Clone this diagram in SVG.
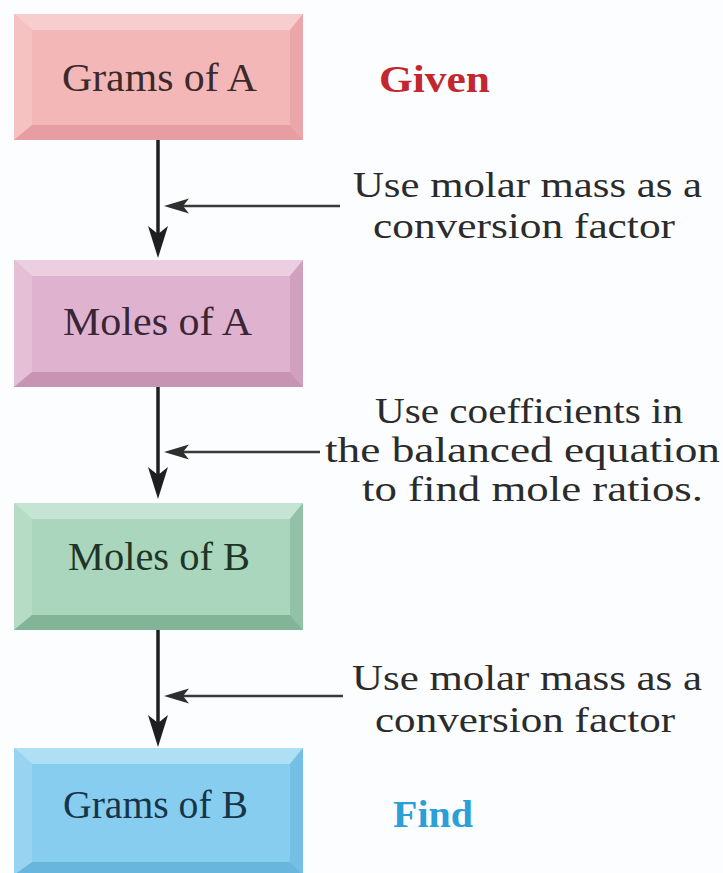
<svg xmlns="http://www.w3.org/2000/svg" width="723" height="873" viewBox="0 0 723 873">
<defs>
<style>
.lbl{font-family:"Liberation Serif",Tinos,"Times New Roman",serif;font-size:39px}
.note{font-family:"Liberation Serif",Tinos,"Times New Roman",serif;font-size:35px;fill:#2b2b2b}
.tag{font-family:"Liberation Serif",Tinos,"Times New Roman",serif;font-size:37px;font-weight:bold}
.vline{stroke:#1f1f1f;stroke-width:3.5;fill:none}
.hline{stroke:#3a3a3a;stroke-width:2.5;fill:none}
.vhead{fill:#1f1f1f}
.hhead{fill:#2e2e2e}
</style>
</defs>
<rect width="723" height="873" fill="#fcfdfe"/>

<g id="grams-a">
<rect x="14" y="14" width="289" height="126" fill="#f4b7b7"/>
<polygon points="14,14 303,14 290,30 32,30" fill="#f8cdcd"/>
<polygon points="14,14 32,30 32,125 14,140" fill="#f6c1c1"/>
<polygon points="303,14 303,140 290,125 290,30" fill="#eba6a9"/>
<polygon points="14,140 303,140 290,125 32,125" fill="#e79ea2"/>
<text class="lbl" x="62" y="91" textLength="195" lengthAdjust="spacingAndGlyphs" fill="#3b2a2c">Grams of A</text>
</g>

<g id="moles-a">
<rect x="14" y="260" width="289" height="127" fill="#dfb3cf"/>
<polygon points="14,260 303,260 290,276 32,276" fill="#ebcee0"/>
<polygon points="14,260 32,276 32,372 14,387" fill="#e4bfd6"/>
<polygon points="303,260 303,387 290,372 290,276" fill="#d0a0bf"/>
<polygon points="14,387 303,387 290,372 32,372" fill="#c794b4"/>
<text class="lbl" x="63" y="335" textLength="189" lengthAdjust="spacingAndGlyphs" fill="#3a2535">Moles of A</text>
</g>

<g id="moles-b">
<rect x="14" y="503" width="289" height="127" fill="#a9d6bc"/>
<polygon points="14,503 303,503 290,519 32,519" fill="#c6e4d3"/>
<polygon points="14,503 32,519 32,615 14,630" fill="#b6dcc6"/>
<polygon points="303,503 303,630 290,615 290,519" fill="#92c1a7"/>
<polygon points="14,630 303,630 290,615 32,615" fill="#82b497"/>
<text class="lbl" x="68" y="570" textLength="182" lengthAdjust="spacingAndGlyphs" fill="#1f3528">Moles of B</text>
</g>

<g id="grams-b">
<rect x="14" y="748" width="289" height="127" fill="#87cdef"/>
<polygon points="14,748 303,748 290,764 32,764" fill="#afdff5"/>
<polygon points="14,748 32,764 32,862 14,875" fill="#98d4f1"/>
<polygon points="303,748 303,875 290,862 290,764" fill="#73bfe6"/>
<polygon points="14,875 303,875 290,862 32,862" fill="#68b6de"/>
<text class="lbl" x="63" y="818" textLength="185" lengthAdjust="spacingAndGlyphs" fill="#183448">Grams of B</text>
</g>

<g id="connectors">
<line class="vline" x1="158" y1="140" x2="158" y2="240"/>
<path class="vhead" d="M158,258 L148,226 L158,234 L168,226 Z"/>
<line class="hline" x1="182" y1="206" x2="340" y2="206"/>
<path class="hhead" d="M164,206 L189,198.5 L183,206 L189,213.5 Z"/>

<line class="vline" x1="158" y1="387" x2="158" y2="482"/>
<path class="vhead" d="M158,499 L148,467 L158,475 L168,467 Z"/>
<line class="hline" x1="182" y1="452" x2="320" y2="452"/>
<path class="hhead" d="M164,452 L189,444.5 L183,452 L189,459.5 Z"/>

<line class="vline" x1="158" y1="630" x2="158" y2="730"/>
<path class="vhead" d="M158,747 L148,715 L158,723 L168,715 Z"/>
<line class="hline" x1="182" y1="696" x2="343" y2="696"/>
<path class="hhead" d="M164,696 L189,688.5 L183,696 L189,703.5 Z"/>
</g>

<g id="given">
<text class="tag" x="379" y="92" textLength="111" lengthAdjust="spacingAndGlyphs" fill="#c3262f">Given</text>
</g>
<g id="find">
<text class="tag" x="393" y="827" textLength="80" lengthAdjust="spacingAndGlyphs" fill="#2a9fd8">Find</text>
</g>

<g id="note-1">
<text class="note" x="353" y="197" textLength="349" lengthAdjust="spacingAndGlyphs">Use molar mass as a</text>
<text class="note" x="373" y="238" textLength="302" lengthAdjust="spacingAndGlyphs">conversion factor</text>
</g>
<g id="note-2">
<text class="note" x="375" y="423" textLength="308" lengthAdjust="spacingAndGlyphs">Use coefficients in</text>
<text class="note" x="325" y="462" textLength="395" lengthAdjust="spacingAndGlyphs">the balanced equation</text>
<text class="note" x="362" y="501" textLength="341" lengthAdjust="spacingAndGlyphs">to find mole ratios.</text>
</g>
<g id="note-3">
<text class="note" x="352" y="690" textLength="350" lengthAdjust="spacingAndGlyphs">Use molar mass as a</text>
<text class="note" x="375" y="732" textLength="300" lengthAdjust="spacingAndGlyphs">conversion factor</text>
</g>
</svg>
